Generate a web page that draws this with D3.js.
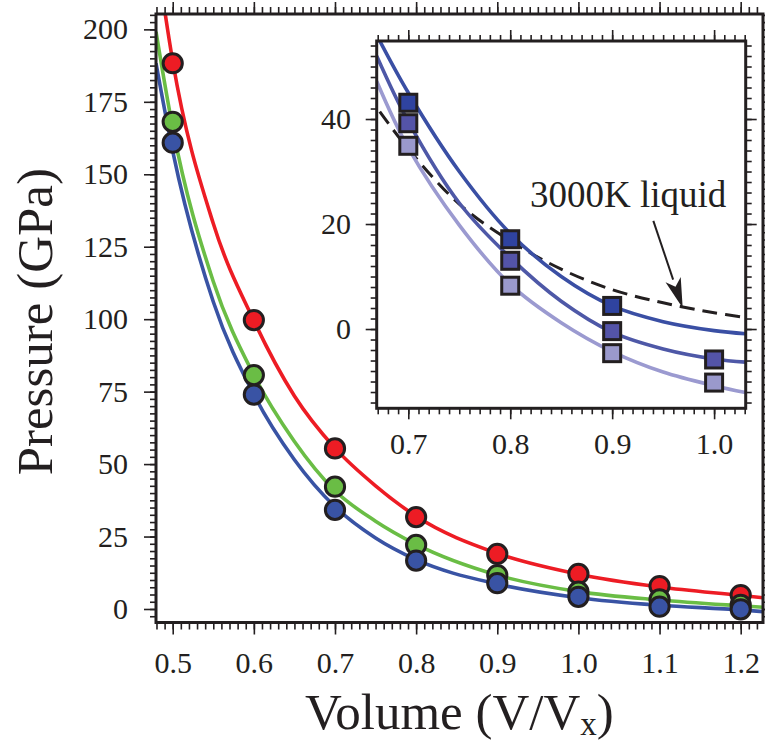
<!DOCTYPE html>
<html><head><meta charset="utf-8">
<script src="https://cdn.jsdelivr.net/npm/d3@7"></script>
<style>
body{margin:0;background:#fff}
svg{display:block}
text{font-family:"Liberation Serif","Times New Roman",serif;fill:#231f20}
</style>
</head><body>
<svg id="chart" width="765" height="742"></svg>
<script>
// ---------- data ----------
const volumes = [0.5, 0.6, 0.7, 0.8, 0.9, 1.0, 1.1, 1.2];
const redPressure = [188.3, 99.7, 55.4, 31.7, 19.0, 12.1, 7.9, 4.8];
const greenPressure = [168.1, 80.7, 42.2, 22.1, 11.7, 6.0, 3.3, 1.4];
const bluePressure = [160.9, 74.0, 34.2, 16.7, 8.9, 4.2, 0.8, -0.1];

const fitVolumes = [0.4794, 0.5, 0.55, 0.6, 0.65, 0.7, 0.75, 0.8, 0.9, 1.0, 1.1, 1.2, 1.2275];
const redFit = [227, 189, 133, 99.5, 73.5, 55.5, 42.5, 32, 19.2, 12, 7.6, 4.7, 3.9];
const greenFit = [199.2, 166, 113, 80.7, 57.8, 40.8, 30.3, 22.3, 11.7, 6.0, 3.1, 1.1, 0.6];
const blueFit = [188.3, 158, 106, 74, 51.5, 35.3, 24.5, 17, 8.6, 3.9, 1.3, -0.3, -0.9];

const mainXTicks = [0.5, 0.6, 0.7, 0.8, 0.9, 1.0, 1.1, 1.2];
const mainYTicks = [0, 25, 50, 75, 100, 125, 150, 175, 200];

const insetVolumes = [0.7, 0.8, 0.9, 1.0];
const darkSquares = [43.1, 17.1, 4.4, null];
const midSquares = [39.2, 13.0, -0.4, -5.8];
const lightSquares = [34.9, 8.25, -4.6, -10.2];

const insetFitVolumes = [0.669, 0.7, 0.75, 0.8, 0.85, 0.9, 0.95, 1.0, 1.031];
const darkFit = [56, 45, 30, 18.2, 10.0, 4.4, 1.4, -0.3, -0.9];
const midFit = [52, 39.5, 24, 13.6, 5.3, -0.6, -3.8, -5.7, -6.3];
const lightFit = [47.2, 34.5, 19.8, 8.5, 1.2, -4.3, -8.2, -10.8, -12.1];
const liquidVolumes = [0.672, 0.7, 0.75, 0.8, 0.85, 0.9, 0.95, 1.0, 1.031];
const liquidFit = [41.4, 34.3, 23.8, 16.8, 11.4, 7.5, 5.0, 3.1, 2.2];

const insetXTicks = [0.7, 0.8, 0.9, 1.0];
const insetYTicks = [-20, 0, 20, 40];

const liquidLabel = "3000K liquid";
const labelPos = [0.8194, 23.3];
const arrowFrom = [0.9404, 20.6];
const arrowTo = [0.9692, 4.0];

// ---------- styles ----------
const INK = "#231f20";
const colRed = "#ed1c24", colGreen = "#6abd45", colBlue = "#3953a4";
const colDarkSq = "#2f43a0", colMidSq = "#5454a8", colLightSq = "#9a99cc";
const colDarkLn = "#3a4fa4", colMidLn = "#4e58a7", colLightLn = "#9b9ad0";

const svg = d3.select("#chart");

// ---------- main plot ----------
const M = {l: 156, r: 763, t: 14, b: 622.5};
const x = d3.scaleLinear().domain([0.4794, 1.2275]).range([M.l, M.r]);
const y = d3.scaleLinear().domain([-4.66, 205.3]).range([M.b, M.t]);

svg.append("rect").attr("x", M.l).attr("y", M.t).attr("width", M.r - M.l).attr("height", M.b - M.t).attr("fill", "#fff");

svg.append("clipPath").attr("id", "mainClip").append("rect")
  .attr("x", M.l).attr("y", M.t).attr("width", M.r - M.l).attr("height", M.b - M.t);

const rnd = v => Math.round(v * 1000) / 1000;
const minor = (lo, hi, step) => d3.range(Math.ceil(lo / step - 1e-9), Math.floor(hi / step + 1e-9) + 1).map(i => rnd(i * step));

function axisPair(g, maker, scale, majors, minors, majSize, minSize, fmt, pad, fontSize) {
  const gMin = g.append("g").call(maker(scale).tickValues(minors).tickSize(minSize).tickFormat(""));
  const gMaj = g.append("g").call(maker(scale).tickValues(majors).tickSize(majSize).tickPadding(pad)
      .tickFormat(fmt ? fmt : ""));
  [gMin, gMaj].forEach(a => {
    a.select(".domain").remove();
    a.selectAll("line").attr("stroke", INK).attr("stroke-width", 1.6);
    a.selectAll("text").attr("font-size", fontSize).attr("font-family", '"Liberation Serif","Times New Roman",serif').attr("fill", INK);
  });
}

const fmt1 = d3.format(".1f");
const xMinor = minor(0.48, 1.227, 0.01);
const yMinor = minor(-4.6, 205, 2.5);

axisPair(svg.append("g").attr("transform", `translate(0,${M.b})`), d3.axisBottom, x, mainXTicks, xMinor, 12, 7, fmt1, 16.7, 30);
axisPair(svg.append("g").attr("transform", `translate(0,${M.t})`), d3.axisTop, x, mainXTicks, xMinor, 12, 7, null, 3, 30);
axisPair(svg.append("g").attr("transform", `translate(${M.l},0)`), d3.axisLeft, y, mainYTicks, yMinor, 12, 6, d3.format("d"), 16, 30);
axisPair(svg.append("g").attr("transform", `translate(${M.r},0)`), d3.axisRight, y, mainYTicks, yMinor, 12, 6, null, 3, 30);

const line = d3.line().x(d => x(d[0])).y(d => y(d[1])).curve(d3.curveMonotoneX);
const curves = svg.append("g").attr("clip-path", "url(#mainClip)");
[[redFit, colRed], [greenFit, colGreen], [blueFit, colBlue]].forEach(([vals, c]) => {
  curves.append("path").datum(fitVolumes.map((v, i) => [v, vals[i]]))
    .attr("d", line).attr("fill", "none").attr("stroke", c).attr("stroke-width", 3.6);
});

[[redPressure, colRed], [greenPressure, colGreen], [bluePressure, colBlue]].forEach(([vals, c]) => {
  svg.append("g").selectAll("circle").data(volumes.map((v, i) => [v, vals[i]])).join("circle")
    .attr("cx", d => x(d[0])).attr("cy", d => y(d[1])).attr("r", 9.6)
    .attr("fill", c).attr("stroke", INK).attr("stroke-width", 3);
});

svg.append("rect").attr("x", M.l).attr("y", M.t).attr("width", M.r - M.l).attr("height", M.b - M.t)
  .attr("fill", "none").attr("stroke", INK).attr("stroke-width", 3);

// axis titles
svg.append("text").attr("x", 305).attr("y", 728.5).attr("font-size", 51)
  .call(t => {
    t.append("tspan").text("Volume (V/V");
    t.append("tspan").attr("font-size", 33).attr("dy", 6).text("x");
    t.append("tspan").attr("dy", -6).text(")");
  });
svg.append("text").attr("transform", "translate(52,321.7) rotate(-90)").attr("text-anchor", "middle")
  .attr("font-size", 51).text("Pressure (GPa)");

// ---------- inset ----------
const I = {l: 376.7, r: 745.7, t: 41, b: 408.3};
const xi = d3.scaleLinear().domain([0.669, 1.031]).range([I.l, I.r]);
const yi = d3.scaleLinear().domain([-15.1, 54.86]).range([I.b, I.t]);

svg.append("rect").attr("x", I.l).attr("y", I.t).attr("width", I.r - I.l).attr("height", I.b - I.t).attr("fill", "#fff");
svg.append("clipPath").attr("id", "insetClip").append("rect")
  .attr("x", I.l).attr("y", I.t).attr("width", I.r - I.l).attr("height", I.b - I.t);

const xiMinor = minor(0.67, 1.03, 0.01);
const yiMinor = minor(-15, 54.8, 2);
axisPair(svg.append("g").attr("transform", `translate(0,${I.b})`), d3.axisBottom, xi, insetXTicks, xiMinor, 11, 6, fmt1, 13.4, 30);
axisPair(svg.append("g").attr("transform", `translate(0,${I.t})`), d3.axisTop, xi, insetXTicks, xiMinor, 11, 6, null, 3, 30);
axisPair(svg.append("g").attr("transform", `translate(${I.l},0)`), d3.axisLeft, yi, insetYTicks.filter(v => v > -15), yiMinor, 11, 6, d3.format("d"), 14.7, 30);
axisPair(svg.append("g").attr("transform", `translate(${I.r},0)`), d3.axisRight, yi, insetYTicks.filter(v => v > -15), yiMinor, 11, 6, null, 3, 30);

const lineI = d3.line().x(d => xi(d[0])).y(d => yi(d[1])).curve(d3.curveCatmullRom.alpha(0.5));
const inCurves = svg.append("g").attr("clip-path", "url(#insetClip)");
inCurves.append("path").datum(liquidVolumes.map((v, i) => [v, liquidFit[i]]))
  .attr("d", lineI).attr("fill", "none").attr("stroke", INK).attr("stroke-width", 3)
  .attr("stroke-dasharray", "15,8");
[[lightFit, colLightLn], [midFit, colMidLn], [darkFit, colDarkLn]].forEach(([vals, c]) => {
  inCurves.append("path").datum(insetFitVolumes.map((v, i) => [v, vals[i]]))
    .attr("d", lineI).attr("fill", "none").attr("stroke", c).attr("stroke-width", 3.6);
});

const SQ = 17;
[[lightSquares, colLightSq], [midSquares, colMidSq], [darkSquares, colDarkSq]].forEach(([vals, c]) => {
  svg.append("g").selectAll("rect").data(insetVolumes.map((v, i) => [v, vals[i]]).filter(d => d[1] !== null)).join("rect")
    .attr("x", d => xi(d[0]) - SQ / 2).attr("y", d => yi(d[1]) - SQ / 2)
    .attr("width", SQ).attr("height", SQ)
    .attr("fill", c).attr("stroke", INK).attr("stroke-width", 3);
});

svg.append("rect").attr("x", I.l).attr("y", I.t).attr("width", I.r - I.l).attr("height", I.b - I.t)
  .attr("fill", "none").attr("stroke", INK).attr("stroke-width", 3);

// annotation
svg.append("text").attr("x", xi(labelPos[0])).attr("y", yi(labelPos[1])).attr("font-size", 37).text(liquidLabel);
const ax0 = xi(arrowFrom[0]), ay0 = yi(arrowFrom[1]), ax1 = xi(arrowTo[0]), ay1 = yi(arrowTo[1]);
const ang = Math.atan2(ay1 - ay0, ax1 - ax0);
const headLen = 30, headW = 8;
const bx = ax1 - headLen * Math.cos(ang), by = ay1 - headLen * Math.sin(ang);
svg.append("line").attr("x1", ax0).attr("y1", ay0).attr("x2", bx).attr("y2", by)
  .attr("stroke", INK).attr("stroke-width", 2);
svg.append("path")
  .attr("d", d3.line()([[ax1, ay1],
    [bx + headW * Math.sin(ang), by - headW * Math.cos(ang)],
    [bx + 0.25 * headLen * Math.cos(ang), by + 0.25 * headLen * Math.sin(ang)],
    [bx - headW * Math.sin(ang), by + headW * Math.cos(ang)]]) + "Z")
  .attr("fill", INK);
</script>
</body></html>
